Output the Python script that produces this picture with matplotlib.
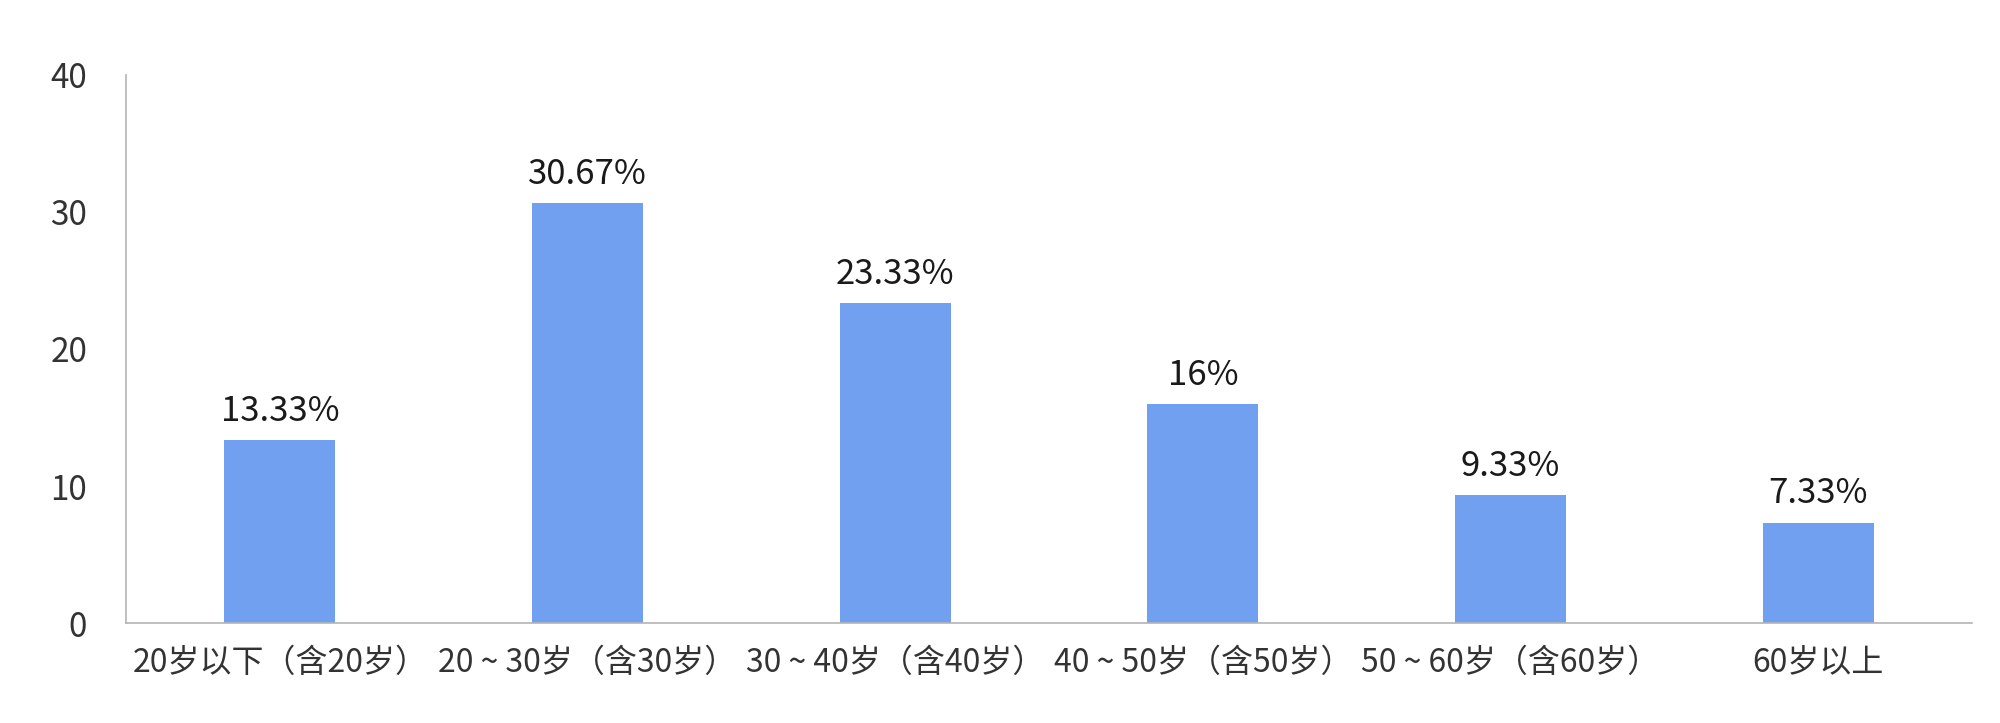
import matplotlib
matplotlib.use("Agg")
import matplotlib.pyplot as plt

plt.rcParams['font.family'] = ['Noto Sans CJK SC', 'DejaVu Sans']

categories = ["20岁以下（含20岁）", "20 ~ 30岁（含30岁）", "30 ~ 40岁（含40岁）",
              "40 ~ 50岁（含50岁）", "50 ~ 60岁（含60岁）", "60岁以上"]
values = [13.33, 30.67, 23.33, 16, 9.33, 7.33]
labels = ["13.33%", "30.67%", "23.33%", "16%", "9.33%", "7.33%"]
yticks = [0, 10, 20, 30, 40]

fig = plt.figure(figsize=(20, 7.23), dpi=100)
ax = fig.add_axes([0.063, 0.1383, 0.923, 0.758])

x = list(range(len(categories)))
bars = ax.bar(x, values, width=0.36, color="#71A0F0")
for xi, v, lab in zip(x, values, labels):
    ax.annotate(lab, (xi, v), xytext=(0, 8), textcoords="offset points",
                ha="center", va="bottom", fontsize=25, color="#1a1a1a")

ax.set_xlim(-0.5, len(categories) - 0.5)
ax.set_ylim(0, 40)
ax.set_yticks(yticks)
ax.set_xticks(x)
ax.set_xticklabels(categories)
ax.tick_params(axis='both', length=0, colors="#333333")
ax.tick_params(axis='y', pad=28, labelsize=24)
ax.tick_params(axis='x', pad=17, labelsize=23)
for s in ["top", "right"]:
    ax.spines[s].set_visible(False)
for s in ["left", "bottom"]:
    ax.spines[s].set_color("#b4b4b4")
    ax.spines[s].set_linewidth(1.2)

fig.savefig("out.png", dpi=100, facecolor="white")
